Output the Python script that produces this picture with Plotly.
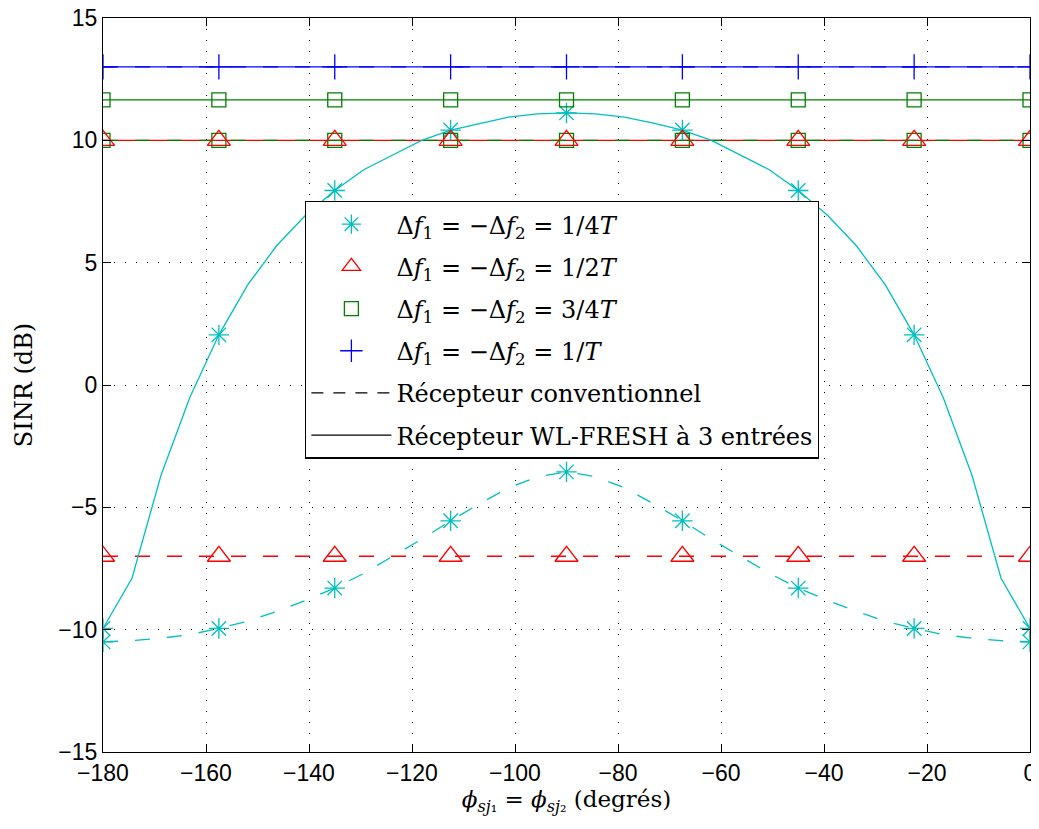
import plotly.graph_objects as go

# x grid for the curves (33 points) and marker positions (every 4th point)
phi = [-180, -174.375, -168.75, -163.125, -157.5, -151.875, -146.25, -140.625,
       -135, -129.375, -123.75, -118.125, -112.5, -106.875, -101.25, -95.625,
       -90, -84.375, -78.75, -73.125, -67.5, -61.875, -56.25, -50.625,
       -45, -39.375, -33.75, -28.125, -22.5, -16.875, -11.25, -5.625, 0]
phi_mk = [-180, -157.5, -135, -112.5, -90, -67.5, -45, -22.5, 0]

# 1/(4T): WL-FRESH receiver (solid) and conventional receiver (dashed)
wl_4T = [-9.95, -7.9, -3.7, -0.5, 2.05, 4.1, 5.7, 6.95,
         7.95, 8.8, 9.4, 10.0, 10.42, 10.7, 10.95, 11.08,
         11.12, 11.08, 10.95, 10.7, 10.42, 10.0, 9.4, 8.8,
         7.95, 6.95, 5.7, 4.1, 2.05, -0.5, -3.7, -7.9, -9.95]
conv_4T = [-10.5, -10.45, -10.35, -10.2, -9.95, -9.65, -9.25, -8.8,
           -8.3, -7.7, -7.0, -6.3, -5.55, -4.85, -4.2, -3.75,
           -3.55, -3.75, -4.2, -4.85, -5.55, -6.3, -7.0, -7.7,
           -8.3, -8.8, -9.25, -9.65, -9.95, -10.2, -10.35, -10.45, -10.5]
wl_4T_mk = [-9.95, 2.05, 7.95, 10.42, 11.12, 10.42, 7.95, 2.05, -9.95]
conv_4T_mk = [-10.5, -9.95, -8.3, -5.55, -3.55, -5.55, -8.3, -9.95, -10.5]

# flat curves (same value at every marker position)
wl_2T = [10.0] * 9
conv_2T = [-7.0] * 9
wl_34T = [11.65] * 9
conv_34T = [10.0] * 9
wl_1T = [13.0] * 9
conv_1T = [13.0] * 9

CYAN = "#00bfbf"
RED = "#ff0000"
GREEN = "#008000"
BLUE = "#0000ff"
DASH = "15px,17px"
LW = 1.3

fig = go.Figure()


def curve(x, y, color, dash):
    fig.add_trace(go.Scatter(x=x, y=y, mode="lines", showlegend=False,
                             line=dict(color=color, width=LW, dash=dash),
                             hoverinfo="skip"))


def marks(x, y, color, symbol, size, name=None):
    fig.add_trace(go.Scatter(x=x, y=y, mode="markers", name=name or "",
                             showlegend=name is not None,
                             legendgroup=name,
                             marker=dict(color=color, symbol=symbol, size=size,
                                         line=dict(color=color, width=1.3))))


# curves
curve(phi_mk, wl_1T, BLUE, "solid")
curve(phi_mk, conv_1T, BLUE, DASH)
curve(phi_mk, wl_34T, GREEN, "solid")
curve(phi_mk, wl_2T, RED, "solid")
curve(phi_mk, conv_34T, GREEN, DASH)
curve(phi_mk, conv_2T, RED, DASH)
curve(phi, wl_4T, CYAN, "solid")
curve(phi, conv_4T, CYAN, DASH)

# markers (legend entries)
marks(phi_mk, wl_4T_mk, CYAN, "asterisk-open", 17,
      "Δ<i>f</i><sub>1</sub> = −Δ<i>f</i><sub>2</sub> = 1/4<i>T</i>")
marks(phi_mk, conv_4T_mk, CYAN, "asterisk-open", 17)
marks(phi_mk, conv_34T, GREEN, "square-open", 14)
marks(phi_mk, wl_2T, RED, "triangle-up-open", 20,
      "Δ<i>f</i><sub>1</sub> = −Δ<i>f</i><sub>2</sub> = 1/2<i>T</i>")
marks(phi_mk, conv_2T, RED, "triangle-up-open", 20)
marks(phi_mk, wl_34T, GREEN, "square-open", 14,
      "Δ<i>f</i><sub>1</sub> = −Δ<i>f</i><sub>2</sub> = 3/4<i>T</i>")
marks(phi_mk, wl_1T, BLUE, "cross-thin-open", 18,
      "Δ<i>f</i><sub>1</sub> = −Δ<i>f</i><sub>2</sub> = 1/<i>T</i>")

# line-style legend entries
fig.add_trace(go.Scatter(x=[None], y=[None], mode="lines",
                         name="Récepteur conventionnel", legendgroup="conv",
                         line=dict(color="black", width=LW, dash="12px,10px")))
fig.add_trace(go.Scatter(x=[None], y=[None], mode="lines",
                         name="Récepteur WL-FRESH à 3 entrées", legendgroup="wl",
                         line=dict(color="black", width=LW)))

axis_common = dict(
    showline=True, linecolor="black", linewidth=1.3, mirror="allticks",
    ticks="inside", ticklen=8, tickcolor="black", tickwidth=1,
    showgrid=True, gridcolor="black", gridwidth=1, griddash="1px,10px",
    zeroline=False, automargin=False, ticklabeloverflow="allow",
    tickfont=dict(family="Liberation Sans, Arial", size=23, color="black"),
)

fig.update_xaxes(range=[-180, 0], tickvals=list(range(-180, 1, 20)),
                 title=dict(text="<i>ϕ</i><sub><i>sj</i>₁</sub> = <i>ϕ</i><sub><i>sj</i>₂</sub> (degrés)",
                            font=dict(family="DejaVu Serif", size=23, color="black"),
                            standoff=6),
                 **axis_common)
fig.update_yaxes(range=[-15, 15], tickvals=list(range(-15, 16, 5)),
                 title=dict(text="SINR (dB)",
                            font=dict(family="DejaVu Serif", size=24, color="black"),
                            standoff=18),
                 **axis_common)

# the page body adds an 8px offset, margins are set so the plot box
# lands at the same pixels as the reference
fig.update_layout(
    width=1039, height=829,
    margin=dict(l=95, r=17, t=10, b=85, autoexpand=False),
    plot_bgcolor="white", paper_bgcolor="white",
    legend=dict(x=0.218, y=0.751, xanchor="left", yanchor="top",
                bgcolor="white", bordercolor="black", borderwidth=1.3,
                font=dict(family="DejaVu Serif", size=24, color="black"),
                tracegroupgap=8, itemwidth=80, traceorder="grouped"),
)

fig.write_html("out.html")
